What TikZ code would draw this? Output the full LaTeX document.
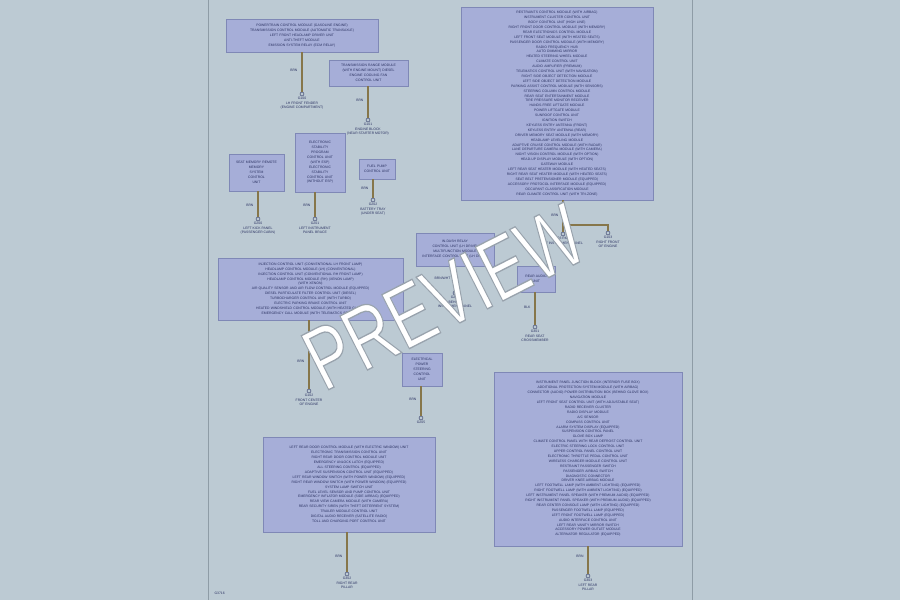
\documentclass[tikz,border=0pt]{standalone}
\usepackage{fontspec}
\setmainfont{Liberation Sans}
\usepackage{tikz}
\usetikzlibrary{positioning,calc}
\definecolor{pagebg}{HTML}{BCCAD3}
\definecolor{pageline}{HTML}{8E9CA6}
\definecolor{boxfill}{HTML}{A6AED8}
\definecolor{boxline}{HTML}{7F88B6}
\definecolor{boxtext}{HTML}{2C3363}
\definecolor{wirecol}{HTML}{86764A}
\newcommand{\outlinetext}[1]{\special{pdf:literal direct 2 Tr 1.3 w 0.60 0.64 0.68 RG}#1\special{pdf:literal direct 0 Tr}}

\begin{document}
\begin{tikzpicture}[x=1pt,y=-1pt,
    modbox/.style 2 args={draw=boxline, fill=boxfill, text=boxtext, align=center,
        font=\fontsize{3.4}{4.9}\selectfont, inner xsep=2pt, inner ysep=1pt,
        text width=#1, minimum height=#2},
    wire/.style={draw=wirecol, line width=1.1pt},
    gnd/.style={circle, draw=boxtext, fill=pagebg, line width=0.4pt, inner sep=0pt, minimum size=4pt},
    wirelbl/.style={font=\fontsize{3.4}{4}\selectfont, text=boxtext, anchor=east, inner sep=1pt},
    gndlbl/.style={font=\fontsize{3.4}{4.4}\selectfont, text=boxtext, align=center, anchor=north, inner sep=1pt}]
    % Page
    \fill[pagebg] (0,0) rectangle (900,600);
    \useasboundingbox (0,0) rectangle (900,600);
    \draw[pageline, line width=0.6pt] (208,0) -- (208,600);
    \draw[pageline, line width=0.6pt] (692,0) -- (692,600);
    \node[font=\fontsize{3.4}{4}\selectfont, text=boxtext, anchor=south west] (sheetno) at (211,598) {G3716};
    %
    % Modules
    \node[modbox={148pt}{33pt}] (pcm) at (302,35.5) {POWERTRAIN CONTROL MODULE (GASOLINE ENGINE)\\TRANSMISSION CONTROL MODULE (AUTOMATIC TRANSAXLE)\\LEFT FRONT HEADLAMP DRIVER UNIT\\ANTI-THEFT MODULE\\EMISSION SYSTEM RELAY (ECM RELAY)};
    \node[modbox={75pt}{26pt}] (trm) at (368.5,73) {TRANSMISSION RANGE MODULE\\(WITH ENGINE MOUNT) DIESEL\\ENGINE COOLING FAN\\CONTROL UNIT};
    \node[modbox={51pt}{37pt}] (smu) at (256.5,172.5) {SEAT MEMORY REMOTE\\MEMORY\\SYSTEM\\CONTROL\\UNIT};
    \node[modbox={46pt}{59pt}] (esp) at (320,162.5) {ELECTRONIC\\STABILITY\\PROGRAM\\CONTROL UNIT\\(WITH ESP)\\ELECTRONIC\\STABILITY\\CONTROL UNIT\\(WITHOUT ESP)};
    \node[modbox={32pt}{20pt}] (fpc) at (377,169) {FUEL PUMP\\CONTROL UNIT};
    \node[modbox={188pt}{193pt}] (body) at (557,103.5) {RESTRAINTS CONTROL MODULE (WITH AIRBAG)\\INSTRUMENT CLUSTER CONTROL UNIT\\BODY CONTROL UNIT (HIGH LINE)\\RIGHT FRONT DOOR CONTROL MODULE (WITH MEMORY)\\REAR ELECTRONICS CONTROL MODULE\\LEFT FRONT SEAT MODULE (WITH HEATED SEATS)\\PASSENGER DOOR CONTROL MODULE (WITH MEMORY)\\RADIO FREQUENCY HUB\\AUTO DIMMING MIRROR\\HEATED STEERING WHEEL MODULE\\CLIMATE CONTROL UNIT\\AUDIO AMPLIFIER (PREMIUM)\\TELEMATICS CONTROL UNIT (WITH NAVIGATION)\\RIGHT SIDE OBJECT DETECTION MODULE\\LEFT SIDE OBJECT DETECTION MODULE\\PARKING ASSIST CONTROL MODULE (WITH SENSORS)\\STEERING COLUMN CONTROL MODULE\\REAR SEAT ENTERTAINMENT MODULE\\TIRE PRESSURE MONITOR RECEIVER\\HANDS-FREE LIFTGATE MODULE\\POWER LIFTGATE MODULE\\SUNROOF CONTROL UNIT\\IGNITION SWITCH\\KEYLESS ENTRY ANTENNA (FRONT)\\KEYLESS ENTRY ANTENNA (REAR)\\DRIVER MEMORY SEAT MODULE (WITH MEMORY)\\HEADLAMP LEVELING MODULE\\ADAPTIVE CRUISE CONTROL MODULE (WITH RADAR)\\LANE DEPARTURE CAMERA MODULE (WITH CAMERA)\\NIGHT VISION CONTROL MODULE (WITH OPTION)\\HEAD-UP DISPLAY MODULE (WITH OPTION)\\GATEWAY MODULE\\LEFT REAR SEAT HEATER MODULE (WITH HEATED SEATS)\\RIGHT REAR SEAT HEATER MODULE (WITH HEATED SEATS)\\SEAT BELT PRETENSIONER MODULE (EQUIPPED)\\ACCESSORY PROTOCOL INTERFACE MODULE (EQUIPPED)\\OCCUPANT CLASSIFICATION MODULE\\REAR CLIMATE CONTROL UNIT (WITH TRI-ZONE)};
    \node[modbox={74pt}{33pt}] (idr) at (455,249.5) {IN-DASH RELAY\\CONTROL UNIT (LH DRIVE)\\MULTIFUNCTION MODULE\\INTERFACE CONTROL UNIT (LH DRIVE)};
    \node[modbox={34pt}{26pt}] (rau) at (536,279) {REAR AUDIO\\UNIT};
    \node[modbox={181pt}{62pt}] (hlm) at (310.5,289) {INJECTION CONTROL UNIT (CONVENTIONAL LH FRONT LAMP)\\HEADLAMP CONTROL MODULE (LH) (CONVENTIONAL)\\INJECTION CONTROL UNIT (CONVENTIONAL RH FRONT LAMP)\\HEADLAMP CONTROL MODULE (RH) (XENON LAMP)\\(WITH XENON)\\AIR QUALITY SENSOR AND AIR FLOW CONTROL MODULE (EQUIPPED)\\DIESEL PARTICULATE FILTER CONTROL UNIT (DIESEL)\\TURBOCHARGER CONTROL UNIT (WITH TURBO)\\ELECTRIC PARKING BRAKE CONTROL UNIT\\HEATED WINDSHIELD CONTROL MODULE (WITH HEATED GLASS)\\EMERGENCY CALL MODULE (WITH TELEMATICS SERVICE)};
    \node[modbox={36pt}{33pt}] (eps) at (422,369.5) {ELECTRICAL\\POWER\\STEERING\\CONTROL\\UNIT};
    \node[modbox={168pt}{95pt}] (rear) at (349,484.5) {LEFT REAR DOOR CONTROL MODULE (WITH ELECTRIC WINDOW) UNIT\\ELECTRONIC TRANSMISSION CONTROL UNIT\\RIGHT REAR DOOR CONTROL MODULE UNIT\\EMERGENCY UNLOCK LATCH (EQUIPPED)\\ALL STEERING CONTROL (EQUIPPED)\\ADAPTIVE SUSPENSION CONTROL UNIT (EQUIPPED)\\LEFT REAR WINDOW SWITCH (WITH POWER WINDOW) (EQUIPPED)\\RIGHT REAR WINDOW SWITCH (WITH POWER WINDOW) (EQUIPPED)\\SYSTEM LAMP SWITCH UNIT\\FUEL LEVEL SENSOR AND PUMP CONTROL UNIT\\EMERGENCY INFLATOR MODULE (SIDE AIRBAG) (EQUIPPED)\\REAR VIEW CAMERA MODULE (WITH CAMERA)\\REAR SECURITY SIREN (WITH THEFT DETERRENT SYSTEM)\\TRAILER MODULE CONTROL UNIT\\DIGITAL AUDIO RECEIVER (SATELLITE RADIO)\\TOLL AND CHARGING PORT CONTROL UNIT};
    \node[modbox={184pt}{174pt}] (inst) at (588,459) {INSTRUMENT PANEL JUNCTION BLOCK (INTERIOR FUSE BOX)\\ADDITIONAL PROTECTION SYSTEM MODULE (WITH AIRBAG)\\CONNECTOR (AUDIO) POWER DISTRIBUTION BOX (BEHIND GLOVE BOX)\\NAVIGATION MODULE\\LEFT FRONT SEAT CONTROL UNIT (WITH ADJUSTABLE SEAT)\\RADIO RECEIVER CLUSTER\\RADIO DISPLAY MODULE\\A/C SENSOR\\COMPASS CONTROL UNIT\\ALARM SYSTEM DISPLAY (EQUIPPED)\\SUSPENSION CONTROL PANEL\\GLOVE BOX LAMP\\CLIMATE CONTROL PANEL WITH REAR DEFROST CONTROL UNIT\\ELECTRIC STEERING LOCK CONTROL UNIT\\UPPER CONTROL PANEL CONTROL UNIT\\ELECTRONIC THROTTLE PEDAL CONTROL UNIT\\WIRELESS CHARGER MODULE CONTROL UNIT\\RESTRAINT PASSENGER SWITCH\\PASSENGER AIRBAG SWITCH\\DIAGNOSTIC CONNECTOR\\DRIVER KNEE AIRBAG MODULE\\LEFT FOOTWELL LAMP (WITH AMBIENT LIGHTING) (EQUIPPED)\\RIGHT FOOTWELL LAMP (WITH AMBIENT LIGHTING) (EQUIPPED)\\LEFT INSTRUMENT PANEL SPEAKER (WITH PREMIUM AUDIO) (EQUIPPED)\\RIGHT INSTRUMENT PANEL SPEAKER (WITH PREMIUM AUDIO) (EQUIPPED)\\REAR CENTER CONSOLE LAMP (WITH LIGHTING) (EQUIPPED)\\PASSENGER FOOTWELL LAMP (EQUIPPED)\\LEFT FRONT FOOTWELL LAMP (EQUIPPED)\\AUDIO INTERFACE CONTROL UNIT\\LEFT REAR VANITY MIRROR SWITCH\\ACCESSORY POWER OUTLET MODULE\\ALTERNATOR REGULATOR (EQUIPPED)};
    %
    % Ground Points
    \node[gnd] (gpcm) at (302,94) {};
    \node[gnd] (gtrm) at (368,120) {};
    \node[gnd] (gsmu) at (258,219) {};
    \node[gnd] (gesp) at (315,219) {};
    \node[gnd] (gfpc) at (373,200) {};
    \node[gnd] (gbodyl) at (563,234) {};
    \node[gnd] (gbodyr) at (608,233) {};
    \coordinate (split) at (563,225);
    \node[gnd] (gidr) at (455,293) {};
    \node[gnd] (grau) at (535,327) {};
    \node[gnd] (ghlm) at (309,391) {};
    \node[gnd] (geps) at (421,418) {};
    \node[gnd] (grear) at (347,574) {};
    \node[gnd] (ginst) at (588,576) {};
    %
    % Ground Wires
    \draw[wire] (pcm.south -| gpcm) -- (gpcm) node[wirelbl, pos=0.45, xshift=-3pt] {BRN};
    \draw[wire] (trm.south -| gtrm) -- (gtrm) node[wirelbl, pos=0.45, xshift=-3pt] {BRN};
    \draw[wire] (smu.south -| gsmu) -- (gsmu) node[wirelbl, pos=0.55, xshift=-3pt] {BRN};
    \draw[wire] (esp.south -| gesp) -- (gesp) node[wirelbl, pos=0.55, xshift=-3pt] {BRN};
    \draw[wire] (fpc.south -| gfpc) -- (gfpc) node[wirelbl, pos=0.5, xshift=-3pt] {BRN};
    \draw[wire] (body.south -| split) -- (split) node[wirelbl, pos=0.6, xshift=-3pt] {BRN} -- (gbodyl);
    \draw[wire] (split) -| (gbodyr);
    \draw[wire] (idr.south -| gidr) -- (gidr) node[wirelbl, pos=0.5, xshift=-3pt] {BRN/WHT};
    \draw[wire] (rau.south -| grau) -- (grau) node[wirelbl, pos=0.45, xshift=-3pt] {BLK};
    \draw[wire] (hlm.south -| ghlm) -- (ghlm) node[wirelbl, pos=0.6, xshift=-3pt] {BRN};
    \draw[wire] (eps.south -| geps) -- (geps) node[wirelbl, pos=0.45, xshift=-3pt] {BRN};
    \draw[wire] (rear.south -| grear) -- (grear) node[wirelbl, pos=0.6, xshift=-3pt] {BRN};
    \draw[wire] (inst.south -| ginst) -- (ginst) node[wirelbl, pos=0.35, xshift=-3pt] {BRN};
    %
    % Ground Locations
    \node[gndlbl] (lpcm) at (gpcm.south) {G100\\LH FRONT FENDER\\(ENGINE COMPARTMENT)};
    \node[gndlbl] (ltrm) at (gtrm.south) {G101\\ENGINE BLOCK\\(NEAR STARTER MOTOR)};
    \node[gndlbl] (lsmu) at (gsmu.south) {G200\\LEFT KICK PANEL\\(PASSENGER CABIN)};
    \node[gndlbl] (lesp) at (gesp.south) {G201\\LEFT INSTRUMENT\\PANEL BRACE};
    \node[gndlbl] (lfpc) at (gfpc.south) {G202\\BATTERY TRAY\\(UNDER SEAT)};
    \node[gndlbl] (lbodyl) at (gbodyl.south) {G203 RIGHT\\OF INSTRUMENT PANEL};
    \node[gndlbl] (lbodyr) at (gbodyr.south) {G103\\RIGHT FRONT\\OF ENGINE};
    \node[gndlbl] (lidr) at (gidr.south) {G204\\BEHIND\\INSTRUMENT PANEL};
    \node[gndlbl] (lrau) at (grau.south) {G301\\REAR SEAT\\CROSSMEMBER};
    \node[gndlbl] (lhlm) at (ghlm.south) {G102\\FRONT CENTER\\OF ENGINE};
    \node[gndlbl] (leps) at (geps.south) {G205};
    \node[gndlbl] (lrear) at (grear.south) {G302\\RIGHT REAR\\PILLAR};
    \node[gndlbl] (linst) at (ginst.south) {G303\\LEFT REAR\\PILLAR};
    %
    % Watermark
    \node[font=\fontsize{88}{88}\selectfont, text=white, rotate=27, inner sep=0pt] (wmark) at (444,297) {\scalebox{0.74}[1]{\outlinetext{PREVIEW}}};
\end{tikzpicture}
\end{document}
